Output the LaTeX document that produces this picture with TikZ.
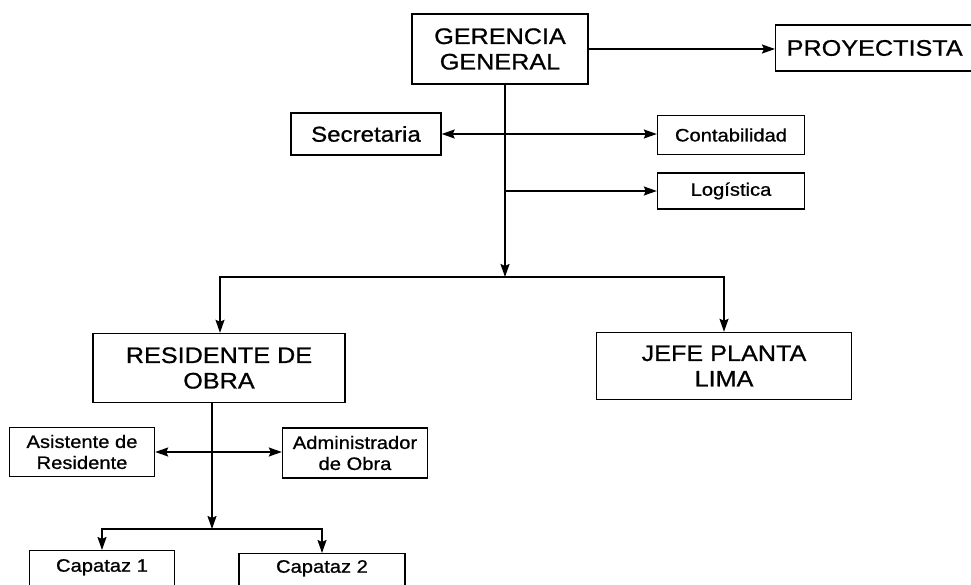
\documentclass[tikz,border=0pt]{standalone}
\usepackage{fontspec}
\setmainfont[FakeStretch=1.12,FakeBold=0.8]{Liberation Sans}
\usepackage{tikz}
\usetikzlibrary{arrows.meta}
\tikzset{
>={Stealth[length=13pt,width=9pt,inset=2pt]},
  caja/.style={
    rectangle,
    % fill=white,
    draw=black, line width=1.4pt,
    align=center,
    inner sep=0pt},
  linea/.style={draw, line width=1.7pt},
  flecha/.style={draw, line width=1.7pt, ->},
  grande/.style={font=\fontsize{22.5}{25.5}\selectfont},
  media/.style={font=\fontsize{21.5}{24}\selectfont},
  chica/.style={font=\fontsize{18}{21}\selectfont},
}

\begin{document}
\begin{tikzpicture}[x=1pt,y=-1pt]
\useasboundingbox (0,0) rectangle (971,585);
% cabeza
\node[caja, grande, minimum width=176, minimum height=70] (ger) at (500,49) {GERENCIA\\GENERAL};
\node[caja, grande, anchor=west, minimum height=46, text width=215, align=left, inner xsep=11] (proy) at (775,48) {PROYECTISTA};
\node[caja, media, minimum width=150, minimum height=42] (sec) at (366,134) {Secretaria};
\node[caja, chica, minimum width=147, minimum height=39] (cont) at (731,135) {Contabilidad};
\node[caja, chica, minimum width=147, minimum height=36] (log) at (731,191) {Log\'{\i}stica};
% obra y planta
\node[caja, grande, minimum width=252, minimum height=69] (res) at (219,368) {RESIDENTE DE\\OBRA};
\node[caja, grande, minimum width=255, minimum height=67] (jefe) at (724,366) {JEFE PLANTA\\LIMA};
\node[caja, chica, minimum width=145, minimum height=49] (asis) at (82,452) {Asistente de\\Residente};
\node[caja, chica, minimum width=145, minimum height=50] (adm) at (355,453) {Administrador\\de Obra};
\node[caja, chica, anchor=north, minimum width=145, text height=21, text depth=45] (cap1) at (102,550) {Capataz 1};
\node[caja, chica, anchor=north, minimum width=166, text height=19, text depth=45] (cap2) at (322,553) {Capataz 2};
\coordinate (nudo) at (505,277);
\coordinate (nudo2) at (212,529);
% conexiones
\draw[flecha] (ger.east) -- (ger.east -| proy.west);
\draw[linea] (nudo |- ger.south) -- (nudo |- sec.east);
\draw[flecha] (nudo |- sec.east) -- (sec.east);
\draw[flecha] (nudo |- sec.east) -- (sec.east -| cont.west);
\draw[flecha] (nudo |- log.west) -- (log.west);
\draw[flecha] (nudo |- ger.south) -- (nudo);
\draw[flecha] (nudo) -| ([xshift=1]res.north);
\draw[flecha] (nudo) -| (jefe.north);
\draw[linea] (nudo2 |- res.south) -- (nudo2 |- asis.east);
\draw[flecha] (nudo2 |- asis.east) -- (asis.east);
\draw[flecha] (nudo2 |- asis.east) -- (asis.east -| adm.west);
\draw[flecha] (nudo2 |- res.south) -- (nudo2);
\draw[flecha] (nudo2) -| (cap1.north);
\draw[flecha] (nudo2) -| (cap2.north);
\end{tikzpicture}
\end{document}
